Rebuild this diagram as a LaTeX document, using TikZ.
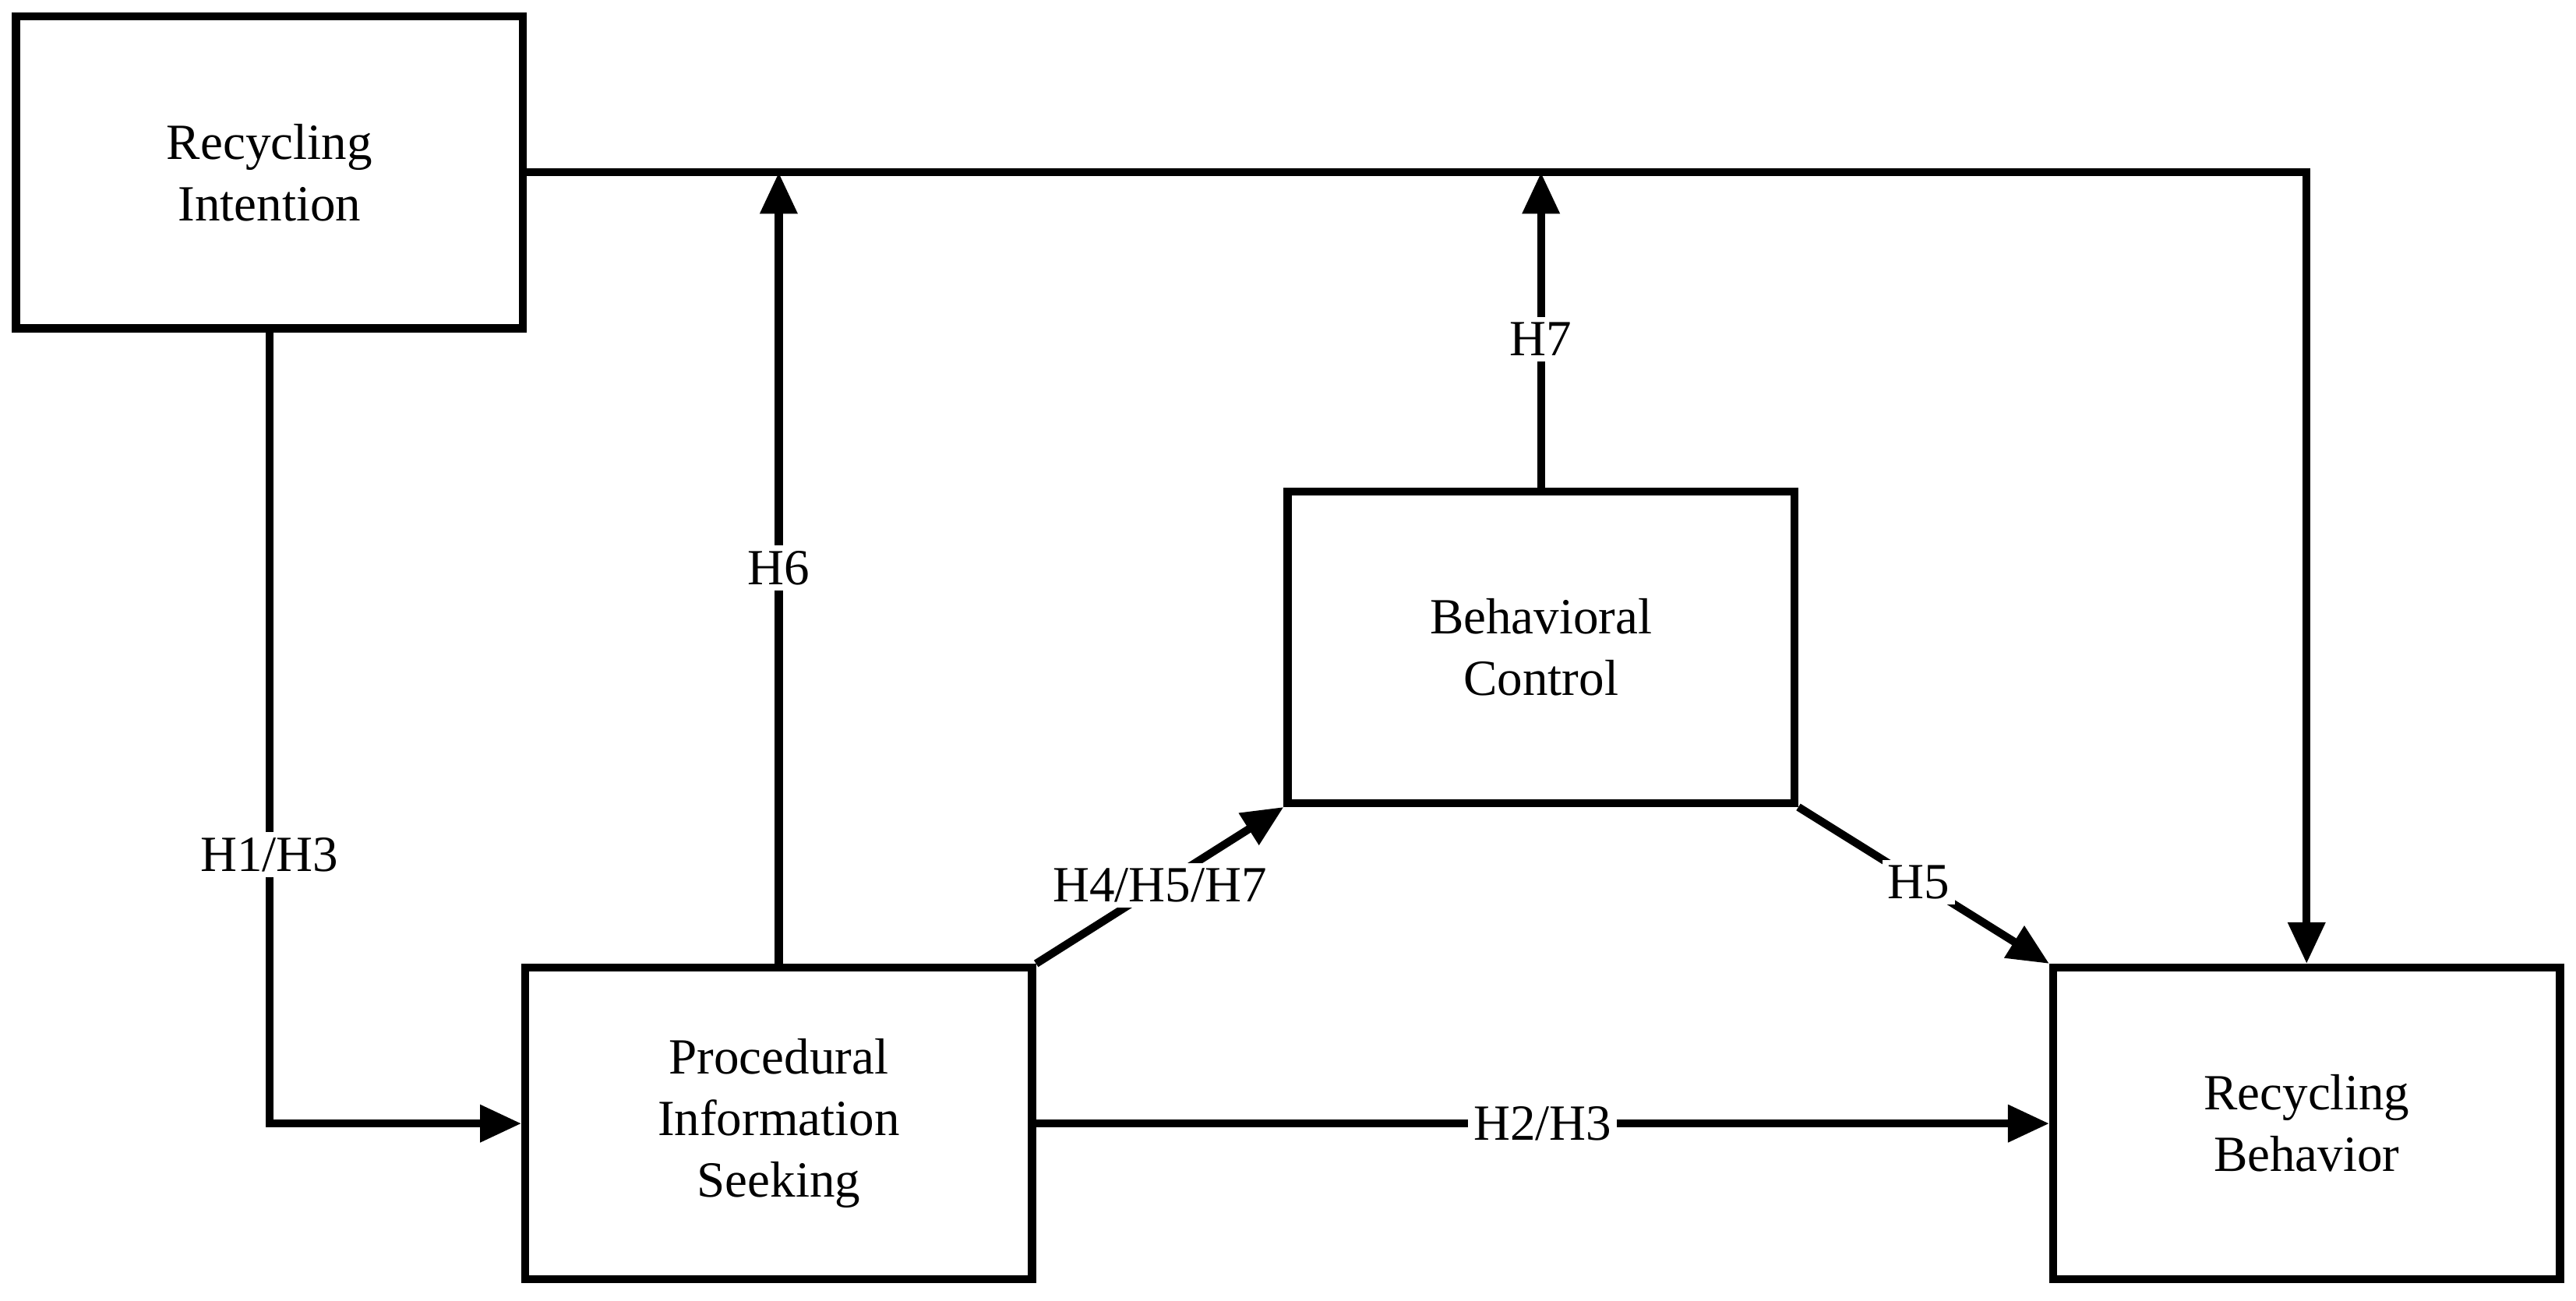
\documentclass[tikz,border=0pt]{standalone}
\usepackage{fontspec}
\setmainfont{Liberation Serif}
\usetikzlibrary{arrows.meta}
\begin{document}
\begin{tikzpicture}[x=0.02108cm, y=-0.02108cm, line width=2.9pt]
	\tikzstyle{box} = [draw, rectangle, align=center, minimum width=6.5cm, minimum height=4.0cm, font=\fontsize{18.5}{22.5}\selectfont]
	\tikzstyle{lab} = [fill=white, inner sep=2pt, font=\fontsize{18.5}{22.5}\selectfont]
	\tikzstyle{arr} = [-{Triangle[length=5.3mm,width=4.6mm]}]
	\useasboundingbox (0,0) rectangle (1568,792);
	\node[box] (ri) at (164,105) {Recycling\\Intention};
	\node[box] (pis) at (474,684) {Procedural\\Information\\Seeking};
	\node[box] (bc) at (938,394) {Behavioral\\Control};
	\node[box] (rb) at (1404,684) {Recycling\\Behavior};
	\coordinate (top1) at (pis.north |- ri.east);
	\coordinate (top2) at (bc.north |- ri.east);
	\draw [arr] (ri.east) -| (rb.north);
	\draw [arr] (ri.south) |- node[lab, pos=0.33] {H1/H3} (pis.west);
	\draw [arr] (pis.north) -- node[lab, pos=0.5] {H6} (top1);
	\draw [arr] (bc.north) -- node[lab, pos=0.47] {H7} (top2);
	\draw [arr] (pis.north east) -- node[lab, pos=0.5] {H4/H5/H7} (bc.south west);
	\draw [arr] (bc.south east) -- node[lab, pos=0.48] {H5} (rb.north west);
	\draw [arr] (pis.east) -- node[lab] {H2/H3} (rb.west);
\end{tikzpicture}
\end{document}
